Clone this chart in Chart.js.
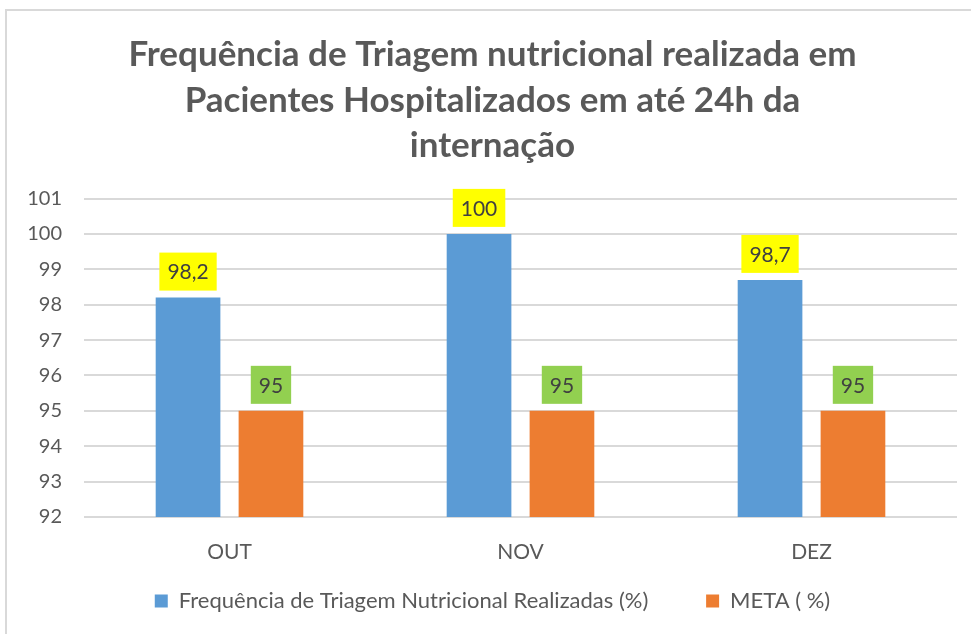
<!DOCTYPE html>
<html>
<head>
<meta charset="utf-8">
<script src="https://cdn.jsdelivr.net/npm/chart.js@4/dist/chart.umd.min.js"></script>
<style>
  body { margin: 0; background: #fff; }
  #frame { position: absolute; left: 5px; top: 9px; width: 980px; height: 640px; border: 2px solid #d9d9d9; box-sizing: border-box; }
  #wrap { position: absolute; left: 0; top: 0; width: 971px; height: 634px; }
</style>
</head>
<body>
<div id="frame"></div>
<div id="wrap"><canvas id="barChart"></canvas></div>
<script>
  'use strict';

  // chart data
  var meses = ['OUT', 'NOV', 'DEZ'];
  var triagem = [98.2, 100, 98.7];
  var meta = [95, 95, 95];
  var tituloLinhas = [
    'Frequência de Triagem nutricional realizada em',
    'Pacientes Hospitalizados em até 24h da',
    'internação'
  ];

  var textoCinza = '#595959';

  // value labels with coloured boxes above each bar
  var rotulosPlugin = {
    id: 'rotulos',
    afterDatasetsDraw: function(chart) {
      var ctx = chart.ctx;
      ctx.save();
      ctx.font = '21px Lato';
      ctx.textAlign = 'center';
      ctx.textBaseline = 'middle';
      chart.data.datasets.forEach(function(ds, i) {
        var metaDs = chart.getDatasetMeta(i);
        metaDs.data.forEach(function(bar, j) {
          var txt = String(ds.data[j]).replace('.', ',');
          var w = ctx.measureText(txt).width + 16;
          var h = 38;
          var bottom = bar.y - 7;
          ctx.fillStyle = ds.labelBg;
          ctx.fillRect(bar.x - w / 2, bottom - h, w, h);
          ctx.fillStyle = '#404040';
          ctx.fillText(txt, bar.x, bottom - h / 2 + 1);
        });
      });
      ctx.restore();
    }
  };

  var ctx = document.getElementById('barChart').getContext('2d');
  var barChart = new Chart(ctx, {
    type: 'bar',
    data: {
      labels: meses,
      datasets: [{
        label: 'Frequência de Triagem Nutricional Realizadas (%)',
        data: triagem,
        backgroundColor: '#5B9BD5',
        labelBg: '#FFFF00',
        categoryPercentage: 0.57,
        barPercentage: 0.78
      }, {
        label: 'META ( %)',
        data: meta,
        backgroundColor: '#ED7D31',
        labelBg: '#92D050',
        categoryPercentage: 0.57,
        barPercentage: 0.78
      }]
    },
    options: {
      responsive: true,
      maintainAspectRatio: false,
      animation: false,
      layout: { padding: { left: 28, right: 14, top: 24, bottom: 12 } },
      plugins: {
        title: {
          display: true,
          text: tituloLinhas,
          color: textoCinza,
          font: { family: 'Lato', size: 35, weight: 'bold', lineHeight: 1.3 },
          padding: { top: 8, bottom: 30 }
        },
        legend: {
          position: 'bottom',
          labels: {
            color: textoCinza,
            font: { family: 'Lato', size: 22 },
            boxWidth: 13,
            boxHeight: 13,
            padding: 24,
            // extra space after first item to widen the gap
            generateLabels: function(chart) {
              var items = Chart.defaults.plugins.legend.labels.generateLabels(chart);
              items[0].text = items[0].text + '      ';
              return items;
            }
          }
        },
        tooltip: { enabled: false }
      },
      scales: {
        x: {
          grid: { display: false },
          border: { display: false },
          ticks: { color: textoCinza, font: { family: 'Lato', size: 21 }, padding: 15 },
          afterFit: function(scale) { scale.height = 49; }
        },
        y: {
          min: 92,
          max: 101,
          border: { display: false },
          grid: { color: '#d9d9d9', lineWidth: 2, drawTicks: false },
          ticks: { stepSize: 1, color: textoCinza, font: { family: 'Lato', size: 20 }, padding: 22 },
          afterFit: function(scale) { scale.width = 56; }
        }
      }
    },
    plugins: [rotulosPlugin]
  });
</script>
</body>
</html>
